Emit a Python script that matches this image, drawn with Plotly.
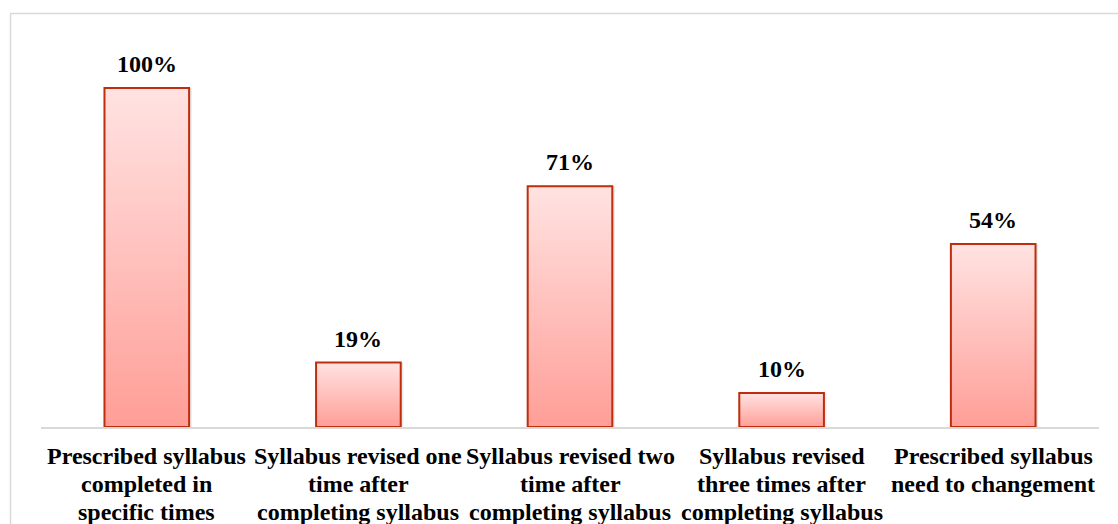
import plotly.graph_objects as go

# Survey results on syllabus coverage and revision
category_lines = [
    ["Prescribed syllabus", "completed in", "specific times"],
    ["Syllabus revised one", "time after", "completing syllabus"],
    ["Syllabus revised two", "time after", "completing syllabus"],
    ["Syllabus revised", "three times after", "completing syllabus"],
    ["Prescribed syllabus", "need to changement"],
]
percentages = [100, 19, 71, 10, 54]

bar_half = 0.2
outline = "#BE2D0C"
top_col = "#FFE3E2"
bottom_col = "#FF9E97"
font_family = "Liberation Serif, Times New Roman, serif"
label_font = dict(family=font_family, size=24, color="black", weight="bold")

fig = go.Figure()

for i, v in enumerate(percentages):
    xs = [i - bar_half, i + bar_half, i + bar_half, i - bar_half, i - bar_half]
    ys = [0, 0, v, v, 0]
    # soft drop shadow to the right of each bar
    fig.add_trace(go.Scatter(
        x=[x + 0.012 for x in xs], y=ys, mode="lines", fill="toself",
        fillcolor="rgba(120,120,120,0.18)", line=dict(width=0),
        hoverinfo="skip", showlegend=False,
    ))
    # gradient-filled bar with outline
    fig.add_trace(go.Scatter(
        x=xs, y=ys, mode="lines", fill="toself",
        fillgradient=dict(type="vertical", start=0, stop=v,
                          colorscale=[[0, bottom_col], [1, top_col]]),
        line=dict(color=outline, width=2),
        hoverinfo="skip", showlegend=False,
    ))
    # value label above the bar
    fig.add_annotation(
        x=i, y=v, text=f"{v}%", showarrow=False, yanchor="middle", yshift=24,
        font=label_font,
    )

# category labels below the axis, one line each for tight spacing
for i, lines in enumerate(category_lines):
    for k, line in enumerate(lines):
        fig.add_annotation(
            x=i, y=0, text=line, showarrow=False, yanchor="middle",
            yshift=-29 - 28 * k, font=label_font,
        )

# outer frame
fig.add_shape(type="rect", xref="paper", yref="paper",
              x0=-0.0288, x1=1.03, y0=-0.3, y1=1.0685,
              line=dict(color="#D9D9D9", width=1.5), fillcolor="rgba(0,0,0,0)")

fig.update_layout(
    width=1118, height=524,
    margin=dict(l=41, r=19, t=40, b=97),
    paper_bgcolor="white", plot_bgcolor="white",
    xaxis=dict(
        range=[-0.5, 4.5], showticklabels=False, showgrid=False, zeroline=False,
        showline=True, linecolor="#D9D9D9", linewidth=1.5, ticks="",
    ),
    yaxis=dict(range=[0, 114.16], visible=False, showgrid=False, zeroline=False),
)

fig.write_html("out.html")
